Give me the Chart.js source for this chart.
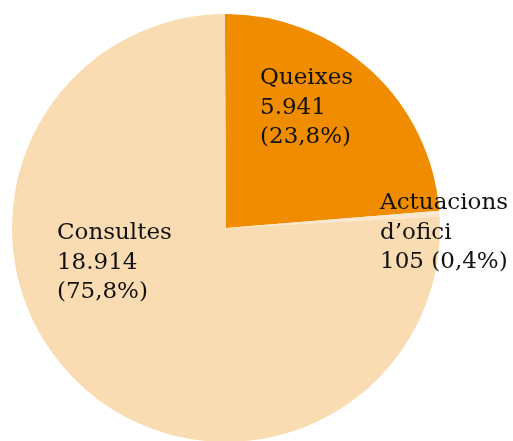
<!DOCTYPE html>
<html><head><meta charset="utf-8">
<script src="https://cdn.jsdelivr.net/npm/chart.js@4/dist/chart.umd.min.js"></script>
<style>html,body{margin:0;padding:0;background:#fff;overflow:hidden;width:513px;height:441px}canvas{display:block}</style>
</head><body>
<canvas id="c" width="513" height="456" style="width:513px;height:456px"></canvas>
<script>
const categories = ["Queixes", "Actuacions d’ofici", "Consultes"];
const values = [5941, 105, 18914];
const percents = ["23,8%", "0,4%", "75,8%"];
const labelLines = [["Queixes", "5.941", "(23,8%)"], ["Actuacions", "d’ofici", "105 (0,4%)"], ["Consultes", "18.914", "(75,8%)"]];
const colors = ["#F08C00", "#FBE7CF", "#FADCB2"];
// label anchors relative to pie center, as fraction of radius
const labelPos = [[0.159, -0.70], [0.72, -0.115], [-0.79, 0.024]];

const labelPlugin = {
  id: 'sliceLabels',
  afterDatasetsDraw(chart) {
    const ctx = chart.ctx;
    const arcs = chart.getDatasetMeta(0).data;
    ctx.save();
    ctx.font = '23px "DejaVu Serif"';
    ctx.fillStyle = '#111111';
    ctx.textAlign = 'left';
    ctx.textBaseline = 'middle';
    arcs.forEach((arc, i) => {
      const r = arc.outerRadius;
      const x0 = arc.x + labelPos[i][0] * r;
      const y0 = arc.y + labelPos[i][1] * r;
      labelLines[i].forEach((t, j) => ctx.fillText(t, x0, y0 + j * 29.5));
    });
    ctx.restore();
  }
};

new Chart(document.getElementById('c'), {
  type: 'pie',
  data: { labels: categories, datasets: [{ data: values, backgroundColor: colors, borderWidth: 0 }] },
  options: {
    responsive: false,
    animation: false,
    rotation: -0.3,
    layout: { padding: { left: 12, right: 73, top: 14, bottom: 14 } },
    plugins: { legend: { display: false }, tooltip: { enabled: false } }
  },
  plugins: [labelPlugin]
});
</script>
</body></html>
